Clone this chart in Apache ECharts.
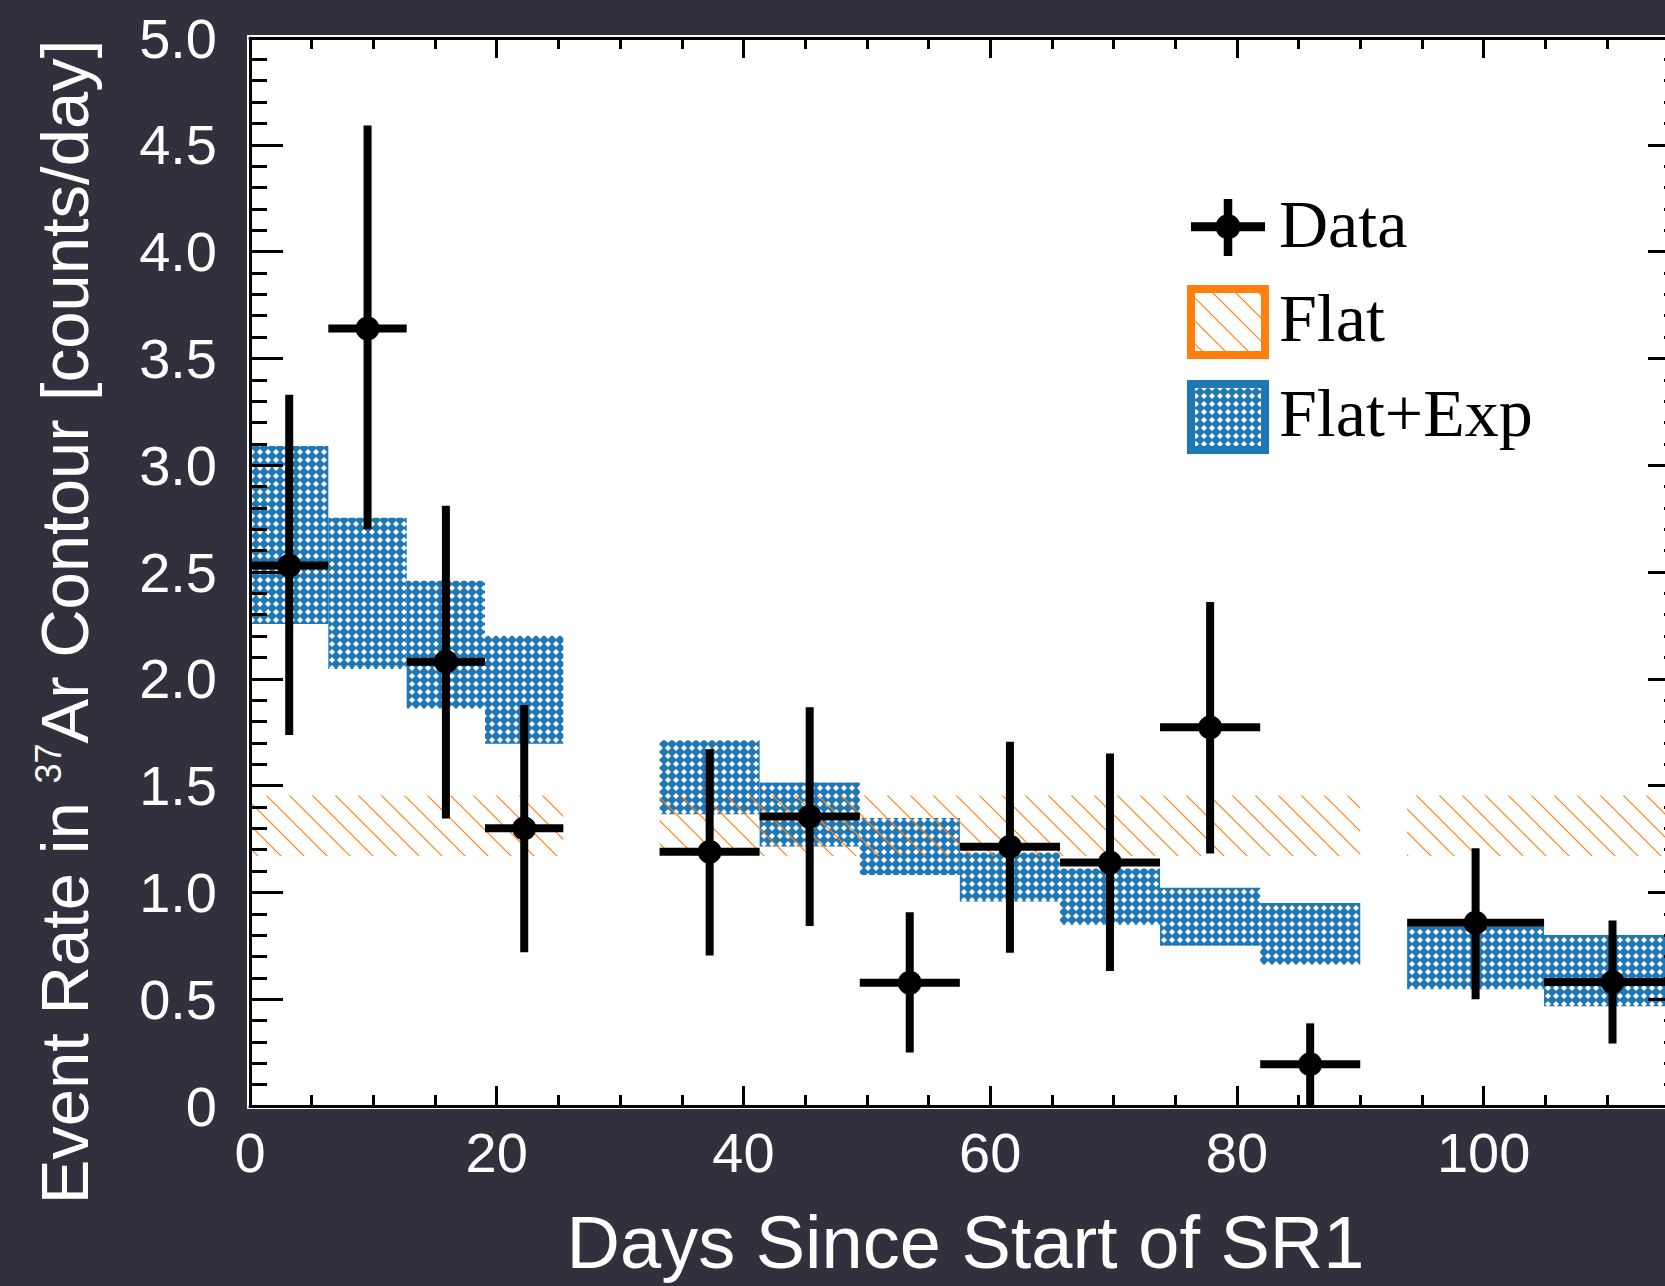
<!DOCTYPE html>
<html>
<head>
<meta charset="utf-8">
<title>37Ar contour event rate</title>
<script src="https://cdn.jsdelivr.net/npm/echarts@6.0.0/dist/echarts.min.js"></script>
<style>
html,body{margin:0;padding:0;background:#30313c;overflow:hidden;}
#chart{width:1665px;height:1286px;}
</style>
</head>
<body>
<div id="chart"></div>
<script>
// ---------------- data ----------------
const binStart = [0, 6.35, 12.7, 19.05, 33.2, 41.31, 49.43, 57.54, 65.66, 73.77, 81.89, 93.8, 104.9];
const binEnd   = [6.35, 12.7, 19.05, 25.4, 41.31, 49.43, 57.54, 65.66, 73.77, 81.89, 90.0, 104.9, 116];
const pointX   = [3.18, 9.53, 15.88, 22.23, 37.26, 45.37, 53.48, 61.6, 69.71, 77.83, 85.94, 99.35, 110.45];
const rate     = [2.53, 3.64, 2.08, 1.30, 1.19, 1.355, 0.577, 1.214, 1.14, 1.773, 0.196, 0.858, 0.58];
const rateLow  = [1.737, 2.70, 1.346, 0.72, 0.705, 0.843, 0.25, 0.717, 0.632, 1.182, 0.0, 0.50, 0.293];
const rateHigh = [3.33, 4.59, 2.81, 1.877, 1.67, 1.867, 0.907, 1.705, 1.65, 2.36, 0.387, 1.207, 0.868];
const expLow   = [2.256, 2.046, 1.861, 1.696, 1.366, 1.215, 1.082, 0.957, 0.849, 0.75, 0.663, 0.546, 0.467];
const expHigh  = [3.09, 2.754, 2.459, 2.202, 1.712, 1.514, 1.348, 1.187, 1.112, 1.022, 0.95, 0.838, 0.80];
const flatLow  = [1.17, 1.17, 1.17, 1.17, 1.17, 1.17, 1.17, 1.17, 1.17, 1.17, 1.17, 1.17, 1.17];
const flatHigh = [1.454, 1.454, 1.454, 1.454, 1.454, 1.454, 1.454, 1.454, 1.454, 1.454, 1.454, 1.454, 1.454];

const xRange = [0, 116];
const yRange = [0, 5];
const xMajorStep = 20, xMinorStep = 5;
const yMajorStep = 0.5, yMinorSplit = 5;
const legendNames = ['Data', 'Flat', 'Flat+Exp'];
const xTitle = 'Days Since Start of SR1';
const yTitleParts = ['Event Rate in ', '37', 'Ar Contour [counts/day]'];

// ---------------- styles ----------------
const SANS = '"Liberation Sans", Arial, Helvetica, sans-serif';
const SERIF = '"Liberation Serif", "Times New Roman", serif';
const BLUE = '#1f77b4', ORANGE = '#ff7f0e';

function bluePattern() {
  const s = 8;
  const c = document.createElement('canvas'); c.width = s; c.height = s;
  const g = c.getContext('2d');
  g.fillStyle = BLUE; g.fillRect(0, 0, s, s);
  g.fillStyle = '#ffffff';
  g.beginPath(); g.moveTo(4, 1.0); g.lineTo(7.0, 4); g.lineTo(4, 7.0); g.lineTo(1.0, 4); g.closePath(); g.fill();
  return { image: c, repeat: 'repeat', imageWidth: s, imageHeight: s };
}
function orangePattern() {
  const s = 23;
  const c = document.createElement('canvas'); c.width = s; c.height = s;
  const g = c.getContext('2d');
  g.strokeStyle = ORANGE; g.lineWidth = 1.2;
  for (const k of [-1, 0, 1]) { g.beginPath(); g.moveTo(k * s, 0); g.lineTo(k * s + s, s); g.stroke(); }
  return { image: c, repeat: 'repeat', imageWidth: s, imageHeight: s };
}
const PAT_BLUE = bluePattern();
const PAT_ORANGE = orangePattern();

// ---------------- series data built from arrays ----------------
const expData = binStart.map((s, i) => [s, binEnd[i], expLow[i], expHigh[i]]);
const flatData = binStart.map((s, i) => [s, binEnd[i], flatLow[i], flatHigh[i]]);
const pointData = pointX.map((x, i) => [x, rate[i], rateLow[i], rateHigh[i], binStart[i], binEnd[i]]);

function bandRender(fill) {
  return function (params, api) {
    const a = api.coord([api.value(0), api.value(3)]);
    const b = api.coord([api.value(1), api.value(2)]);
    return {
      type: 'rect',
      shape: { x: a[0], y: a[1], width: b[0] - a[0], height: b[1] - a[1] },
      style: { fill: fill, stroke: null }
    };
  };
}
function pointRender(params, api) {
  const x = api.value(0), y = api.value(1), lo = api.value(2), hi = api.value(3);
  const x0 = api.value(4), x1 = api.value(5);
  const c = api.coord([x, y]), t = api.coord([x, hi]), b = api.coord([x, lo]);
  const l = api.coord([x0, y]), r = api.coord([x1, y]);
  return {
    type: 'group',
    children: [
      { type: 'line', shape: { x1: t[0], y1: t[1], x2: b[0], y2: b[1] }, style: { stroke: '#000', lineWidth: 8 } },
      { type: 'line', shape: { x1: l[0], y1: l[1], x2: r[0], y2: r[1] }, style: { stroke: '#000', lineWidth: 8 } },
      { type: 'circle', shape: { cx: c[0], cy: c[1], r: 12 }, style: { fill: '#000' } }
    ]
  };
}

// ---------------- axes ----------------
const lineBlack = { color: '#000', width: 3 };
function xAxisDef(pos, step, tickLen, showLine, showLabel) {
  return {
    type: 'value', position: pos, min: xRange[0], max: xRange[1], interval: step, z: 10,
    axisLine: { show: showLine, onZero: false, lineStyle: lineBlack },
    axisTick: { show: true, inside: true, length: tickLen, lineStyle: { color: '#000', width: 3 } },
    axisLabel: showLabel ? {
      show: true, color: '#fff', fontSize: 56, fontFamily: SANS, margin: 18, lineHeight: 56,
      formatter: v => (v % xMajorStep === 0 ? String(v) : '')
    } : { show: false },
    splitLine: { show: false }
  };
}
function yAxisDef(pos, showLabel) {
  return {
    type: 'value', position: pos, min: yRange[0], max: yRange[1], interval: yMajorStep, z: 10,
    axisLine: { show: true, onZero: false, lineStyle: lineBlack },
    axisTick: { show: true, inside: true, length: 33, lineStyle: { color: '#000', width: 3 } },
    minorTick: { show: true, splitNumber: yMinorSplit, length: 17, lineStyle: { color: '#000', width: 3 } },
    axisLabel: showLabel ? {
      show: true, color: '#fff', fontSize: 56, fontFamily: SANS, margin: 33,
      formatter: v => (v === 0 ? '0' : v.toFixed(1))
    } : { show: false },
    splitLine: { show: false }, minorSplitLine: { show: false }
  };
}
const xAxes = [
  Object.assign(xAxisDef('bottom', xMajorStep, 20, true, true), {
    name: xTitle, nameLocation: 'middle', nameGap: 107,
    nameTextStyle: { color: '#fff', fontSize: 74, fontFamily: SANS, lineHeight: 58 }
  }),
  xAxisDef('bottom', xMinorStep, 11, false, false),
  xAxisDef('top', xMajorStep, 20, true, false),
  xAxisDef('top', xMinorStep, 11, false, false)
];
const yAxes = [yAxisDef('left', true), yAxisDef('right', false)];

// ---------------- legend & y title (graphic) ----------------
const LX = 1191, LW = 74;
const graphics = [
  {
    type: 'text', x: 64, y: 622, rotation: Math.PI / 2, z: 20,
    style: {
      text: '{m|' + yTitleParts[0] + '}{s|' + yTitleParts[1] + '}{m|' + yTitleParts[2] + '}',
      align: 'center', verticalAlign: 'middle', textAlign: 'center', textVerticalAlign: 'middle',
      fill: '#fff',
      rich: {
        m: { fontSize: 67, fontFamily: SANS, fill: '#fff', lineHeight: 67 },
        s: { fontSize: 36, fontFamily: SANS, fill: '#fff', lineHeight: 36, verticalAlign: 'top' }
      }
    }
  },
  // Data symbol
  { type: 'line', z: 20, shape: { x1: LX, y1: 226.7, x2: LX + LW, y2: 226.7 }, style: { stroke: '#000', lineWidth: 9 } },
  { type: 'line', z: 20, shape: { x1: 1228, y1: 199, x2: 1228, y2: 256 }, style: { stroke: '#000', lineWidth: 8.5 } },
  { type: 'circle', z: 20, shape: { cx: 1228, cy: 226.7, r: 12.5 }, style: { fill: '#000' } },
  // Flat box
  { type: 'rect', z: 20, shape: { x: LX, y: 289, width: LW, height: 66 }, style: { fill: PAT_ORANGE, stroke: ORANGE, lineWidth: 8 } },
  // Flat+Exp box
  { type: 'rect', z: 20, shape: { x: LX, y: 384, width: LW, height: 66 }, style: { fill: PAT_BLUE, stroke: BLUE, lineWidth: 8 } },
  { type: 'text', z: 20, x: 1279, y: 224, style: { text: legendNames[0], fill: '#000', fontSize: 68, fontFamily: SERIF, align: 'left', verticalAlign: 'middle', textAlign: 'left', textVerticalAlign: 'middle' } },
  { type: 'text', z: 20, x: 1279, y: 318, style: { text: legendNames[1], fill: '#000', fontSize: 68, fontFamily: SERIF, align: 'left', verticalAlign: 'middle', textAlign: 'left', textVerticalAlign: 'middle' } },
  { type: 'text', z: 20, x: 1279, y: 413, style: { text: legendNames[2], fill: '#000', fontSize: 68, fontFamily: SERIF, align: 'left', verticalAlign: 'middle', textAlign: 'left', textVerticalAlign: 'middle' } }
];

const chart = echarts.init(document.getElementById('chart'), null, { renderer: 'svg', width: 1665, height: 1286 });
chart.setOption({
  backgroundColor: '#30313c',
  animation: false,
  grid: {
    left: 250, top: 38, width: 1431, height: 1068, outerBoundsMode: 'none', containLabel: false,
    show: true, backgroundColor: '#ffffff', borderColor: '#ffffff', borderWidth: 6
  },
  xAxis: xAxes,
  yAxis: yAxes,
  series: [
    { type: 'custom', name: legendNames[2], xAxisIndex: 0, yAxisIndex: 0, z: 2, renderItem: bandRender(PAT_BLUE), encode: { x: [0, 1], y: [2, 3] }, data: expData, silent: true },
    { type: 'custom', name: legendNames[1], xAxisIndex: 0, yAxisIndex: 0, z: 3, renderItem: bandRender(PAT_ORANGE), encode: { x: [0, 1], y: [2, 3] }, data: flatData, silent: true },
    { type: 'custom', name: legendNames[0], xAxisIndex: 0, yAxisIndex: 0, z: 4, renderItem: pointRender, encode: { x: [0, 4, 5], y: [1, 2, 3] }, data: pointData, silent: true }
  ],
  graphic: graphics
});
</script>
</body>
</html>
